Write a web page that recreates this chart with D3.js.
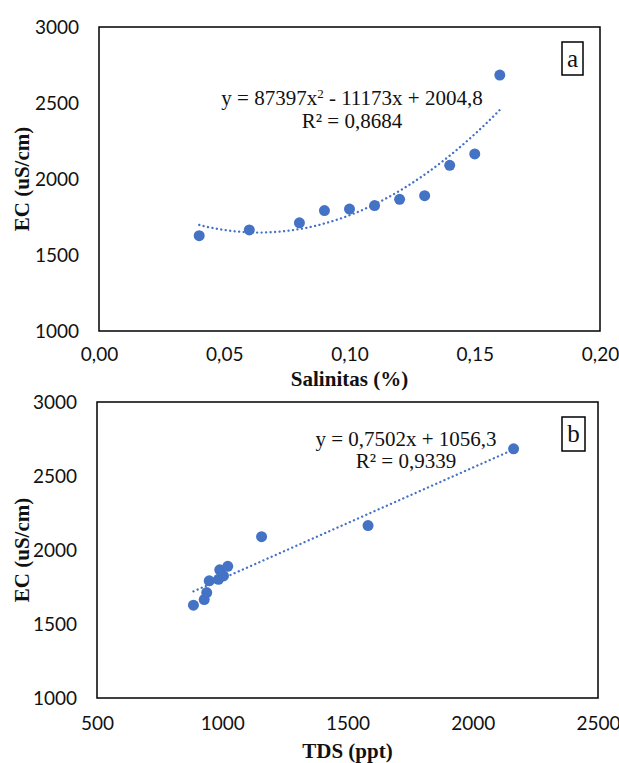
<!DOCTYPE html>
<html>
<head>
<meta charset="utf-8">
<script src="https://cdn.jsdelivr.net/npm/d3@7"></script>
<style>
	body { margin: 0; background: #fff; }
	svg { display: block; }
	.tick text { font-family: Lato, "Open Sans", sans-serif; font-size: 19px; fill: #111; }
	.title { font-family: "Liberation Serif", serif; font-weight: bold; font-size: 21px; fill: #111; }
	.eq { font-family: "Liberation Serif", serif; font-size: 21px; fill: #111; }
</style>
</head>
<body>
<svg id="chart"></svg>
<script>
// data
const salinitas = [0.04, 0.06, 0.08, 0.09, 0.10, 0.11, 0.12, 0.13, 0.14, 0.15, 0.16];
const ecValues = [1627, 1665, 1712, 1792, 1802, 1825, 1866, 1890, 2090, 2165, 2684];
const tdsValues = [885, 928, 938, 948, 985, 1005, 990, 1022, 1157, 1582, 2163];

const salTicks = [0, 0.05, 0.10, 0.15, 0.20];
const tdsTicks = [500, 1000, 1500, 2000, 2500];
const ecTicks = [1000, 1500, 2000, 2500, 3000];

// trendline coefficients shown on the chart
const quadCoeffs = [87397, -11173, 2004.8];
const linCoeffs = [0.7502, 1056.3];

const width = 619;
const height = 763;
const blue = '#4472C4';

const comma = d3.formatLocale({ decimal: ',', thousands: '.', grouping: [3], currency: ['', ''] });

const svg = d3.select('#chart')
	.attr('width', width)
	.attr('height', height);

function drawPanel(opts) {
	const x = d3.scaleLinear().domain(opts.xDomain).range([opts.left, opts.right]);
	const y = d3.scaleLinear().domain([1000, 3000]).range([opts.bottom, opts.top]);

	const g = svg.append('g');

	g.append('rect')
		.attr('x', opts.left)
		.attr('y', opts.top)
		.attr('width', opts.right - opts.left)
		.attr('height', opts.bottom - opts.top)
		.attr('fill', 'none')
		.attr('stroke', '#000')
		.attr('stroke-width', 1.5);

	const yAxis = g.append('g')
		.attr('transform', `translate(${opts.left}, 0)`)
		.call(d3.axisLeft(y).tickValues(ecTicks).tickSize(0).tickPadding(20).tickFormat(d3.format('d')));
	yAxis.select('.domain').remove();

	const xAxis = g.append('g')
		.attr('transform', `translate(0, ${opts.bottom})`)
		.call(d3.axisBottom(x).tickValues(opts.xTicks).tickSize(0).tickPadding(opts.xPad).tickFormat(opts.xFormat));
	xAxis.select('.domain').remove();

	// trendline
	const line = d3.line()
		.x(d => x(d[0]))
		.y(d => y(d[1]));
	const x0 = d3.min(opts.xs), x1 = d3.max(opts.xs);
	const pts = d3.range(0, 101).map(i => {
		const v = x0 + (x1 - x0) * i / 100;
		return [v, opts.fit(v)];
	});
	g.append('path')
		.datum(pts)
		.attr('d', line)
		.attr('fill', 'none')
		.attr('stroke', blue)
		.attr('stroke-width', 2.3)
		.attr('stroke-linecap', 'round')
		.attr('stroke-dasharray', '0.1 4.4');

	g.selectAll('circle')
		.data(opts.xs.map((v, i) => [v, ecValues[i]]))
		.join('circle')
		.attr('cx', d => x(d[0]))
		.attr('cy', d => y(d[1]))
		.attr('r', 5.5)
		.attr('fill', blue);

	// axis titles
	g.append('text')
		.attr('class', 'title')
		.attr('transform', `translate(29, ${(opts.top + opts.bottom) / 2}) rotate(-90)`)
		.attr('text-anchor', 'middle')
		.text('EC (uS/cm)');

	g.append('text')
		.attr('class', 'title')
		.attr('x', (opts.left + opts.right) / 2)
		.attr('y', opts.xTitleY)
		.attr('text-anchor', 'middle')
		.text(opts.xTitle);

	// panel letter
	g.append('rect')
		.attr('x', opts.box[0])
		.attr('y', opts.box[1])
		.attr('width', opts.box[2])
		.attr('height', opts.box[3])
		.attr('fill', '#fff')
		.attr('stroke', '#000')
		.attr('stroke-width', 1.5);
	g.append('text')
		.attr('class', 'eq')
		.attr('x', opts.box[0] + opts.box[2] / 2)
		.attr('y', opts.box[1] + opts.box[3] / 2 + 8)
		.attr('text-anchor', 'middle')
		.style('font-size', '25px')
		.text(opts.letter);

	return g;
}

const ga = drawPanel({
	left: 99, right: 600, top: 27, bottom: 331,
	xDomain: [0, 0.2], xTicks: salTicks, xFormat: comma.format('.2f'), xPad: 17,
	xs: salinitas,
	fit: v => quadCoeffs[0] * v * v + quadCoeffs[1] * v + quadCoeffs[2],
	xTitle: 'Salinitas (%)', xTitleY: 386,
	box: [562, 42, 21, 33], letter: 'a'
});

const eqA = ga.append('text')
	.attr('class', 'eq')
	.attr('x', 352)
	.attr('y', 105)
	.attr('text-anchor', 'middle');
eqA.append('tspan').text('y = 87397x');
eqA.append('tspan').attr('baseline-shift', 'super').style('font-size', '13px').text('2');
eqA.append('tspan').text(' - 11173x + 2004,8');
ga.append('text')
	.attr('class', 'eq')
	.attr('x', 352)
	.attr('y', 128)
	.attr('text-anchor', 'middle')
	.text('R² = 0,8684');

const gb = drawPanel({
	left: 97, right: 598, top: 402, bottom: 698,
	xDomain: [500, 2500], xTicks: tdsTicks, xFormat: d3.format('d'), xPad: 19,
	xs: tdsValues,
	fit: v => linCoeffs[0] * v + linCoeffs[1],
	xTitle: 'TDS (ppt)', xTitleY: 758,
	box: [562, 417, 23, 34], letter: 'b'
});

gb.append('text')
	.attr('class', 'eq')
	.attr('x', 406)
	.attr('y', 446)
	.attr('text-anchor', 'middle')
	.text('y = 0,7502x + 1056,3');
gb.append('text')
	.attr('class', 'eq')
	.attr('x', 406)
	.attr('y', 468)
	.attr('text-anchor', 'middle')
	.text('R² = 0,9339');
</script>
</body>
</html>
